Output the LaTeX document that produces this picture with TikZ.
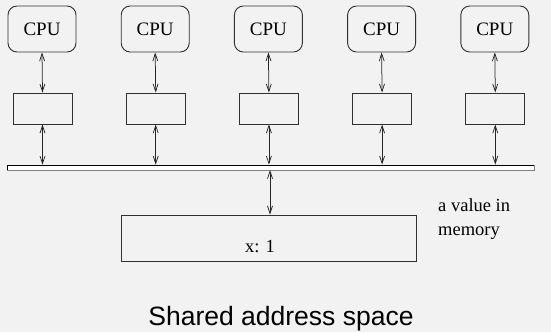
\documentclass[tikz,border=0pt]{standalone}
\usepackage{fontspec}
\setmainfont{Liberation Serif}
\newfontfamily\labelsans{Liberation Sans}
\usetikzlibrary{arrows.meta}
\definecolor{bg}{HTML}{F2F2F2}
\definecolor{edge}{HTML}{303030}
\begin{document}
\begin{tikzpicture}[x=1pt,y=-1pt,
  cpubox/.style={draw=edge,line width=0.9pt,rounded corners=9pt,minimum width=68pt,minimum height=46pt,inner sep=0pt,font=\fontsize{19}{20}\selectfont},
  cachebox/.style={draw=edge,line width=0.9pt,minimum width=59pt,minimum height=31pt,inner sep=0pt},
  link/.style={draw=black!85,line width=0.75pt,{Straight Barb[length=7.5pt,width=5pt]}-{Straight Barb[length=7.5pt,width=5pt]}},
  txt/.style={font=\fontsize{18.5}{24}\selectfont,inner sep=0pt}]
\fill[bg] (0,0) rectangle (551,332);
\useasboundingbox (0,0) rectangle (551,332);
% bus
\node[draw=black,fill=white,line width=0.7pt,minimum width=527pt,minimum height=5pt,inner sep=0pt] (bus) at (270.5,167.5) {};
\draw[gray,line width=1.2pt] (bus.south west) -- (bus.south east) -- (bus.north east);
% memory
\node[draw=edge,line width=0.9pt,minimum width=295pt,minimum height=46pt,inner sep=0pt] (mem) at (268.5,238) {};
\node[txt,anchor=base] (xval) at (260,252) {x: 1};
\foreach \i in {1,...,5}{
  \pgfmathsetmacro{\cx}{42+113.2*(\i-1)}
  \node[cpubox] (cpu\i) at (\cx,29) {CPU};
  \node[cachebox] (c\i) at (\cx+0.5,108.5) {};
  \draw[link] (cpu\i.south) -- (c\i.north);
  \draw[link] (c\i.south) -- (c\i.south |- bus.north);
}
\coordinate (busdown) at (270,170);
\draw[link] (busdown) -- (busdown |- mem.north);
\node[txt,anchor=base west] (note1) at (438,211) {a value in};
\node[txt,anchor=base west] (note2) at (438,235) {memory};
\node[font=\labelsans\fontsize{26.5}{28}\selectfont,inner sep=0pt,anchor=base] (title) at (281,325) {Shared address space};
\end{tikzpicture}
\end{document}
